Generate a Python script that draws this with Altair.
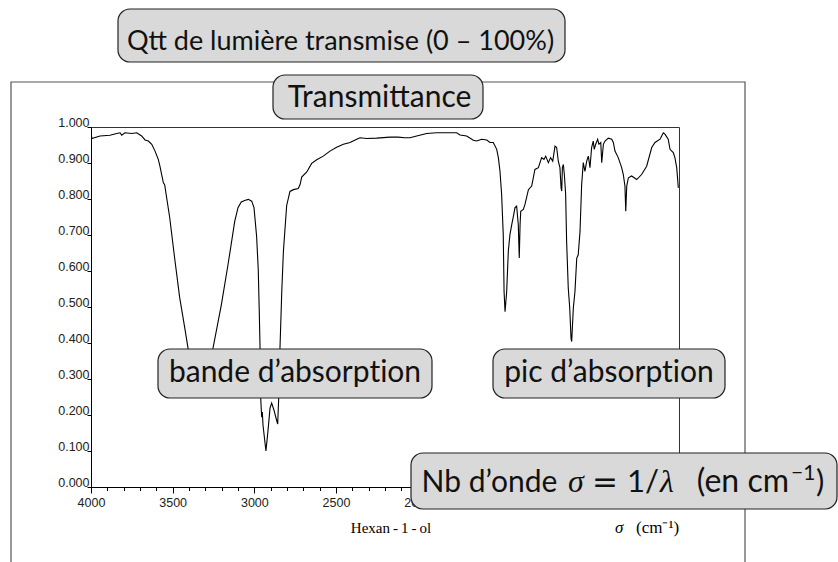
import altair as alt
import pandas as pd

# ---- spectrum (wavenumber in cm-1, transmittance 0-1)
wavenumber = [4000, 3995, 3945, 3884, 3843, 3822, 3812, 3792, 3751, 3720, 3690, 3669, 3649,
              3628, 3608, 3588, 3578, 3557, 3549, 3518, 3488, 3457, 3426, 3406, 3376,
              3333, 3290, 3253, 3202, 3161, 3120, 3100, 3080, 3059, 3037, 3016, 3002,
              2986, 2976, 2970, 2965, 2961, 2955, 2951, 2947, 2929, 2916, 2904, 2894,
              2880, 2867, 2857, 2849, 2843, 2832, 2822, 2802, 2782, 2761, 2731, 2720,
              2710, 2679, 2649, 2618, 2578, 2537, 2496, 2455, 2414, 2373, 2353, 2312,
              2251, 2169, 2120, 2078, 2047, 2006, 1945, 1884, 1761, 1741, 1700, 1659,
              1639, 1608, 1577, 1557, 1537, 1516, 1506, 1496, 1486, 1476, 1471, 1465,
              1455, 1445, 1435, 1424, 1414, 1404, 1394, 1384, 1378, 1373, 1369, 1353,
              1343, 1322, 1302, 1282, 1261, 1241, 1227, 1216, 1200, 1186, 1173, 1159,
              1149, 1139, 1129, 1122, 1118, 1114, 1108, 1102, 1094, 1088, 1078, 1069,
              1061, 1057, 1047, 1037, 1026, 1017, 1006, 996, 986, 976, 965, 955,
              945, 935, 925, 919, 910, 898, 890, 879, 873, 863, 853, 833,
              812, 802, 792, 772, 751, 741, 731, 726, 720, 710, 690, 659,
              629, 598, 567, 547, 516, 506, 496, 486, 466, 455, 435, 425,
              414, 404]
transmittance = [0.985, 0.968, 0.975, 0.977, 0.982, 0.984, 0.977, 0.984, 0.982, 0.984, 0.975, 0.964, 0.961,
                 0.952, 0.933, 0.910, 0.891, 0.845, 0.840, 0.748, 0.636, 0.526, 0.442, 0.386, 0.311,
                 0.283, 0.311, 0.386, 0.506, 0.618, 0.738, 0.776, 0.792, 0.796, 0.799, 0.794, 0.776,
                 0.696, 0.604, 0.492, 0.386, 0.247, 0.194, 0.208, 0.172, 0.100, 0.158, 0.219, 0.233,
                 0.214, 0.191, 0.175, 0.269, 0.386, 0.543, 0.655, 0.782, 0.821, 0.826, 0.829, 0.840,
                 0.861, 0.875, 0.899, 0.909, 0.919, 0.933, 0.944, 0.952, 0.957, 0.966, 0.970, 0.968,
                 0.969, 0.972, 0.972, 0.970, 0.970, 0.975, 0.982, 0.984, 0.984, 0.978, 0.975, 0.963,
                 0.961, 0.966, 0.964, 0.957, 0.957, 0.938, 0.915, 0.877, 0.813, 0.701, 0.543, 0.487,
                 0.543, 0.655, 0.701, 0.729, 0.752, 0.776, 0.780, 0.729, 0.636, 0.729, 0.766, 0.771,
                 0.785, 0.826, 0.836, 0.882, 0.887, 0.915, 0.910, 0.919, 0.901, 0.915, 0.905, 0.947,
                 0.943, 0.905, 0.887, 0.831, 0.822, 0.887, 0.896, 0.868, 0.813, 0.682, 0.553, 0.497,
                 0.413, 0.404, 0.497, 0.543, 0.636, 0.645, 0.710, 0.840, 0.901, 0.877, 0.905, 0.919,
                 0.887, 0.943, 0.961, 0.938, 0.952, 0.966, 0.952, 0.957, 0.901, 0.952, 0.961, 0.969,
                 0.966, 0.957, 0.933, 0.915, 0.887, 0.868, 0.836, 0.766, 0.836, 0.859, 0.864, 0.854,
                 0.868, 0.891, 0.943, 0.957, 0.966, 0.975, 0.984, 0.980, 0.966, 0.938, 0.929, 0.915,
                 0.887, 0.831]

y_ticks = [0.0, 0.1, 0.2, 0.3, 0.4, 0.5, 0.6, 0.7, 0.8, 0.9, 1.0]
x_major = [4000, 3500, 3000, 2500, 2000, 1500, 1000, 500]
x_minor = [4000, 3900, 3800, 3700, 3600, 3500, 3400, 3300, 3200, 3100, 3000, 2900,
           2800, 2700, 2600, 2500, 2400, 2300, 2200, 2100, 2000, 1900, 1800, 1700,
           1600, 1500, 1400, 1300, 1200, 1100, 1000, 900, 800, 700, 600, 500, 400]

sample_name = "Hexan\u2009-\u20091\u2009-\u2009ol"
unit_symbol = "σ"
unit_text = "(cm⁻¹)"
annot_texts = ["Qtt de lumière transmise (0 – 100%)", "Transmittance",
               "bande d’absorpt\u200cion", "pic d’absorpt\u200cion"]
# "Nb d'onde σ = 1/λ (en cm^-1)" split in pieces: (text, font, size, italic, align)
wave_pieces = [("Nb d’onde", "Lato", 30, False, "left"),
               ("σ", "Liberation Serif", 32, True, "left"),
               ("=", "DejaVu Sans", 31, False, "left"),
               ("1/", "Lato", 31, False, "left"),
               ("λ", "Liberation Serif", 32, True, "left"),
               ("(en cm", "Lato", 32, False, "right"),
               ("−1", "Lato", 21, False, "left"),
               (")", "Lato", 31, False, "left")]

df = pd.DataFrame({"wn": wavenumber, "T": transmittance})
one = pd.DataFrame({"k": [0]})

W, H = 588, 360
xscale = alt.Scale(domain=[4000, 400], nice=False, zero=False)
yscale = alt.Scale(domain=[0, 1], nice=False, zero=False)
AX_FONT = "Liberation Sans"

line = alt.Chart(df).mark_line(color="black", strokeWidth=1.1, clip=True).encode(
    x=alt.X("wn:Q", scale=xscale,
            axis=alt.Axis(values=x_major, format="d", title=None, orient="bottom",
                          labelExpr="datum.value < 1800 ? '' : datum.label",
                          tickSize=6, labelPadding=3, labelFontSize=12.5,
                          labelFont=AX_FONT, labelColor="#222", domainColor="black",
                          tickColor="black", grid=False, labelOverlap=False,
                          labelFlush=False)),
    y=alt.Y("T:Q", scale=yscale,
            axis=alt.Axis(values=y_ticks, format=".3f", title=None, orient="left",
                          tickSize=4, labelPadding=-2, labelBaseline="alphabetic",
                          labelOffset=-1, labelFontSize=12.5, labelFont=AX_FONT,
                          labelColor="#222", domainColor="black", tickColor="black",
                          grid=False, labelOverlap=False, labelFlush=False)),
)

minor = alt.Chart(df).mark_point(opacity=0).encode(
    x=alt.X("wn:Q", scale=xscale,
            axis=alt.Axis(values=x_minor, labels=False, domain=False, title=None,
                          orient="bottom", tickSize=3.5, tickColor="black", grid=False)),
)

# outer frame
outer = alt.Chart(one).mark_rect(fill=None, stroke="#555", strokeWidth=1.2, clip=False).encode(
    x=alt.value(-80), x2=alt.value(654), y=alt.value(-45), y2=alt.value(480))

def txt_layer(text, x, y, font, size, align="center", italic=False, color="black"):
    kw = dict(text=text, font=font, fontSize=size, align=align, baseline="alphabetic",
              color=color, clip=False)
    if italic:
        kw["fontStyle"] = "italic"
    return alt.Chart(one).mark_text(**kw).encode(x=alt.value(x), y=alt.value(y))

layers = [outer, minor, line,
          txt_layer(sample_name, 300, 405.5, "Liberation Serif", 15),
          txt_layer(unit_symbol, 524, 405.5, "Liberation Serif", 17, align="left", italic=True),
          txt_layer(unit_text, 545, 405.5, "Liberation Serif", 17, align="left")]

boxes = [  # x, x2, y, y2 (pixels relative to plot origin)
    (27, 474, -118, -65),
    (182, 392, -52, -8),
    (67, 341, 222, 271),
    (402, 634, 222, 271),
]
text_pos = [(249.5, -77), (288.5, -20), (204, 254.5), (518, 254.5)]
text_size = [27, 30, 30, 30]

def box_layer(x1, x2, y1, y2):
    return alt.Chart(one).mark_rect(fill="#d9d9d9", stroke="#222", strokeWidth=1.2,
                                    cornerRadius=12, clip=False).encode(
        x=alt.value(x1), x2=alt.value(x2), y=alt.value(y1), y2=alt.value(y2))

for (x1, x2, y1, y2), txt, (tx, ty), fs in zip(boxes, annot_texts, text_pos, text_size):
    layers += [box_layer(x1, x2, y1, y2), txt_layer(txt, tx, ty, "Lato", fs, color="#111")]

# wavenumber box with composed text
layers.append(box_layer(320, 746, 326, 382))
piece_x = [330.5, 477, 501, 536, 569, 698, 700, 725]
piece_y = [364.5, 364.5, 364.5, 364.5, 364.5, 364.5, 353, 364.5]
for (txt, font, size, ital, al), px, py in zip(wave_pieces, piece_x, piece_y):
    layers.append(txt_layer(txt, px, py, font, size, align=al, italic=ital, color="#111"))

chart = alt.layer(*layers).resolve_axis(x="independent").properties(
    width=W, height=H,
    autosize=alt.AutoSizeParams(type="none"),
    padding={"left": 91, "top": 127, "right": 159, "bottom": 75},
    background="white",
).configure_view(stroke="#333", strokeWidth=1)

chart.save("out.html", embed_options={"renderer": "svg", "actions": False})
